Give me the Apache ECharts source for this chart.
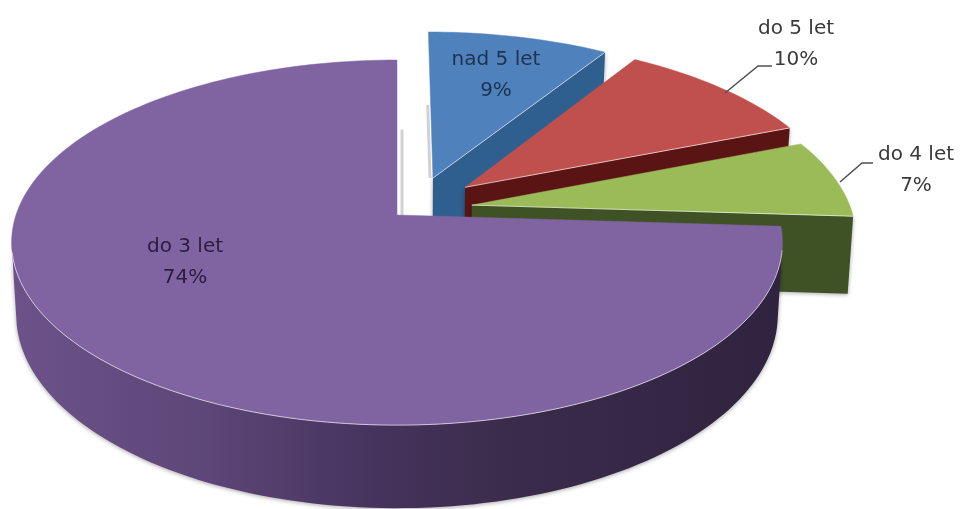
<!DOCTYPE html>
<html>
<head>
<meta charset="utf-8">
<style>html,body{margin:0;padding:0;background:#fff}#c{width:960px;height:509px}</style>
<script src="https://cdn.jsdelivr.net/npm/echarts@6/dist/echarts.min.js"></script>
</head>
<body>
<div id="c"></div>
<script>
const categories = ['nad 5 let', 'do 5 let', 'do 4 let', 'do 3 let'];
const values = [9, 10, 7, 74];

// Styling and layout only
const topColors = ['#4f81bd', '#c0504d', '#9bbb59', '#8064a2'];
const sideColors = ['#2f5f8f', '#5a1414', '#3f5225', null];
const textColors = ['#1d3350', '#3a3a3a', '#3a3a3a', '#2a1d3f'];
const explode = [[0.0975, 0.214], [0.183, 0.159], [0.198, 0.056], [0, 0]];
const depthScale = [1, 1, 1.1, 1];
const labelPos = [[496, 75], [796, 44], [916, 170], [185, 262]];
const leaders = [null, [[772, 66], [758, 66], [725, 93]], [[873, 163], [862, 163], [840, 182]], null];
// cut edge that casts a faint shadow beside it
const castShadow = { 0: { from: 'apex', frac: 0.5, dx: -3 }, 3: { from: 'end', frac: 0.55, dx: 5 } };
const view = { cx: 397, cy: 215, rx: 381, ry: 178.4, k: 0.151, depth: 70.5, shrink: 0.988 };

function project(X, Y, down, scale) {
  const w = 1 + view.k * Y;
  const x = view.cx + view.rx * X / w;
  const y = view.cy - view.ry * Y / w;
  if (!down) return [x, y];
  return [view.cx + (x - view.cx) * view.shrink, y + view.depth * scale / w];
}

const total = values.reduce((a, b) => a + b, 0);

function renderSlice(params, api) {
  const i = params.dataIndex;
  const value = api.value(0);
  let before = 0;
  for (let j = 0; j < i; j++) before += values[j];
  const a0 = before / total * Math.PI * 2;
  const a1 = (before + value) / total * Math.PI * 2;
  const [ex, ey] = explode[i];
  const model = [[ex, ey]];
  const steps = Math.max(8, Math.round(value * 2.4));
  for (let s = 0; s <= steps; s++) {
    const a = a0 + (a1 - a0) * s / steps;
    model.push([ex + Math.sin(a), ey + Math.cos(a)]);
  }
  model.push([ex, ey]);
  const top = model.map(m => project(m[0], m[1], false, 1));
  const bot = model.map(m => project(m[0], m[1], true, depthScale[i]));

  const children = [];
  const cs = castShadow[i];
  if (cs) {
    const apex = top[0];
    const far = cs.from === 'apex' ? top[1] : top[top.length - 2];
    children.push({
      type: 'line',
      shape: {
        x1: apex[0] + cs.dx, y1: apex[1],
        x2: apex[0] + (far[0] - apex[0]) * cs.frac + cs.dx,
        y2: apex[1] + (far[1] - apex[1]) * cs.frac
      },
      style: { stroke: 'rgba(0,0,0,0.18)', lineWidth: 3 }
    });
  }
  const runs = [];
  let run = null;
  for (let s = 0; s < top.length - 1; s++) {
    const dx = top[s + 1][0] - top[s][0];
    const dy = top[s + 1][1] - top[s][1];
    if (dx < -0.1 * Math.hypot(dx, dy)) {
      if (!run) { run = [s]; runs.push(run); }
      run.push(s + 1);
    } else run = null;
  }
  const sideFill = i === 3
    ? new echarts.graphic.LinearGradient(12, 0, 790, 0, [
        { offset: 0, color: '#6c5289' },
        { offset: 0.25, color: '#5d4678' },
        { offset: 0.45, color: '#47345f' },
        { offset: 0.65, color: '#3a2b4a' },
        { offset: 1, color: '#30233f' }
      ], true)
    : sideColors[i];
  runs.forEach(r => {
    const pts = r.map(n => top[n]).concat(r.slice().reverse().map(n => bot[n]));
    children.push({
      type: 'polygon', shape: { points: pts },
      style: { fill: sideFill, shadowBlur: 4, shadowColor: 'rgba(0,0,0,0.35)', shadowOffsetY: 1 }
    });
  });
  children.push({
    type: 'polygon', shape: { points: top },
    style: { fill: topColors[i], stroke: topColors[i], lineWidth: 0.5 }
  });
  runs.forEach(r => {
    children.push({
      type: 'polyline', shape: { points: r.map(n => top[n]) },
      style: { fill: null, stroke: 'rgba(255,255,255,0.6)', lineWidth: 1 }
    });
  });
  if (leaders[i]) {
    children.push({
      type: 'polyline', shape: { points: leaders[i] },
      style: { fill: null, stroke: '#505050', lineWidth: 1.5 }
    });
  }
  children.push({
    type: 'text',
    style: {
      text: categories[i] + '\n' + value + '%',
      x: labelPos[i][0], y: labelPos[i][1],
      align: 'center', verticalAlign: 'middle',
      fontFamily: '"DejaVu Sans"', fontSize: 20, lineHeight: 31,
      fill: textColors[i]
    }
  });
  return { type: 'group', children };
}

const chart = echarts.init(document.getElementById('c'), null, { renderer: 'canvas' });
chart.setOption({
  animation: false,
  backgroundColor: '#ffffff',
  series: [{
    type: 'custom',
    coordinateSystem: 'none',
    renderItem: renderSlice,
    data: values.map((v, i) => ({ name: categories[i], value: [v] }))
  }]
});
</script>
</body>
</html>
